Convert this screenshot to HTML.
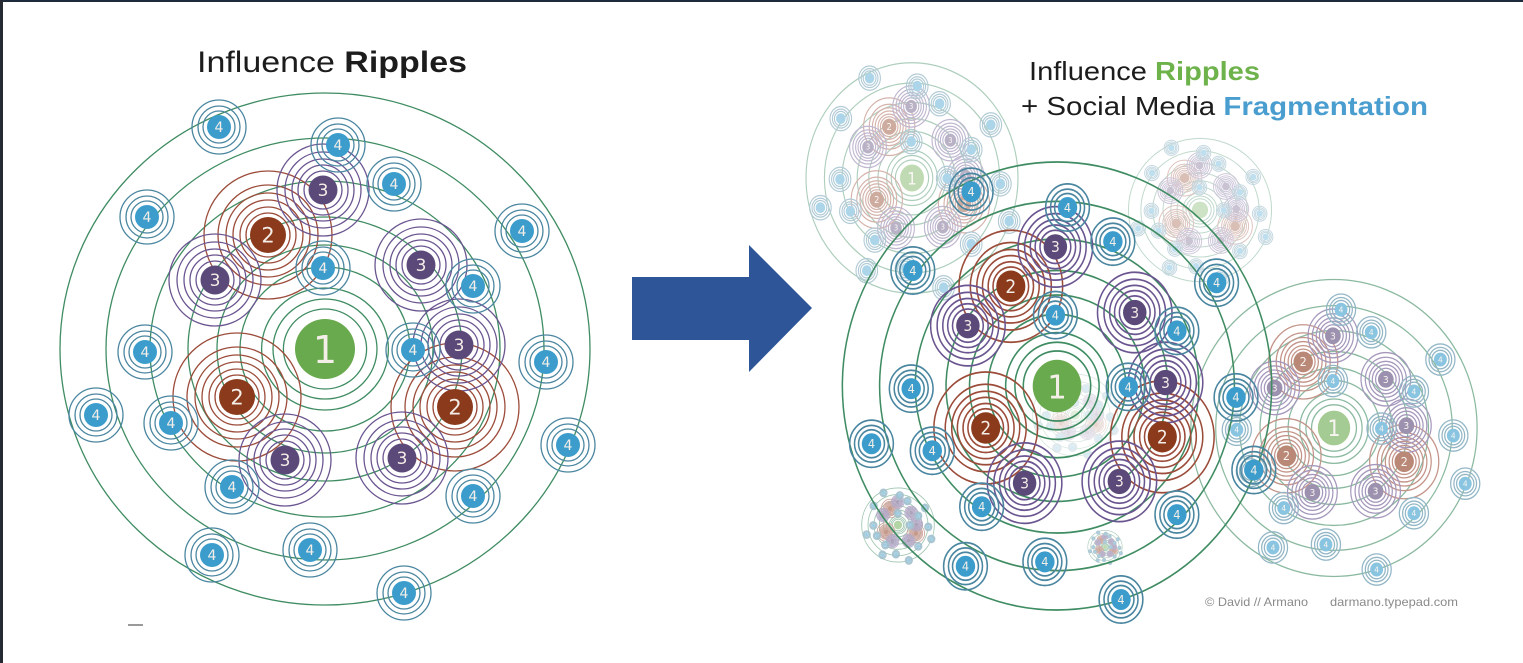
<!DOCTYPE html>
<html>
<head>
<meta charset="utf-8">
<style>
html,body{margin:0;padding:0;background:#ffffff;overflow:hidden;}
svg{display:block}
.lab text{font-family:"DejaVu Sans","Liberation Sans",sans-serif;fill:#f4eee8;text-anchor:middle}
.t1{font-size:38px}.t2{font-size:21px}.t3{font-size:17px}.t4{font-size:14px}
.ttl{font-family:"Liberation Sans",Arial,sans-serif;fill:#1c1c1c}
</style>
</head>
<body>
<svg width="1523" height="663" viewBox="0 0 1523 663" xmlns="http://www.w3.org/2000/svg">
<defs>
<g id="R1" stroke="#3f8c62" fill="none">
<ellipse rx="41.6" ry="40"/><ellipse rx="52" ry="50"/><ellipse rx="63.4" ry="61"/><ellipse rx="85" ry="82"/><ellipse rx="108" ry="104"/><ellipse rx="137" ry="132"/><ellipse rx="175" ry="168"/><ellipse rx="219" ry="211"/><ellipse rx="265" ry="256"/>
</g>
<g id="R2" stroke="#9c4c3a" fill="none">
<circle r="22"/><circle r="28"/><circle r="35"/><circle r="42"/><circle r="50"/><circle r="64"/>
</g>
<g id="R3" stroke="#6a5590" fill="none">
<circle r="19"/><circle r="25"/><circle r="31"/><circle r="38"/><circle r="46"/>
</g>
<g id="R4" stroke="#4a86a0" fill="none">
<circle r="16"/><circle r="21"/><circle r="27"/>
</g>
<g id="Dcore">
<use href="#R1"/>
<use href="#R2" x="-57" y="-114"/><use href="#R2" x="-88" y="48"/><use href="#R2" x="130" y="58"/>
<use href="#R3" x="-2" y="-159"/><use href="#R3" x="-110" y="-69"/><use href="#R3" x="96" y="-84"/><use href="#R3" x="134" y="-4"/><use href="#R3" x="-40" y="111"/><use href="#R3" x="77" y="109"/>
<use href="#R4" x="13" y="-204"/><use href="#R4" x="69" y="-165"/><use href="#R4" x="197" y="-118"/><use href="#R4" x="-2" y="-81"/><use href="#R4" x="148" y="-63"/><use href="#R4" x="-180" y="3"/><use href="#R4" x="88" y="1"/><use href="#R4" x="221" y="13"/><use href="#R4" x="-154" y="74"/><use href="#R4" x="243" y="96"/><use href="#R4" x="-93" y="138"/><use href="#R4" x="148" y="147"/><use href="#R4" x="-113" y="206"/><use href="#R4" x="-15" y="201"/><use href="#R4" x="79" y="244"/>
<circle r="30" fill="#6aaa4e"/>
<g fill="#8b3a1c"><circle cx="-57" cy="-114" r="18"/><circle cx="-88" cy="48" r="18"/><circle cx="130" cy="58" r="18"/></g>
<g fill="#5b4979"><circle cx="-2" cy="-159" r="14.5"/><circle cx="-110" cy="-69" r="14.5"/><circle cx="96" cy="-84" r="14.5"/><circle cx="134" cy="-4" r="14.5"/><circle cx="-40" cy="111" r="14.5"/><circle cx="77" cy="109" r="14.5"/></g>
<g fill="#3c9dcc"><circle cx="13" cy="-204" r="12"/><circle cx="69" cy="-165" r="12"/><circle cx="197" cy="-118" r="12"/><circle cx="-2" cy="-81" r="12"/><circle cx="148" cy="-63" r="12"/><circle cx="-180" cy="3" r="12"/><circle cx="88" cy="1" r="12"/><circle cx="221" cy="13" r="12"/><circle cx="-154" cy="74" r="12"/><circle cx="243" cy="96" r="12"/><circle cx="-93" cy="138" r="12"/><circle cx="148" cy="147" r="12"/><circle cx="-113" cy="206" r="12"/><circle cx="-15" cy="201" r="12"/><circle cx="79" cy="244" r="12"/></g>
</g>
<g id="Dx">
<use href="#R4" x="-106" y="-222"/><use href="#R4" x="-178" y="-132"/><use href="#R4" x="-229" y="66"/>
<g fill="#3c9dcc"><circle cx="-106" cy="-222" r="12"/><circle cx="-178" cy="-132" r="12"/><circle cx="-229" cy="66" r="12"/></g>
</g>
</defs>

<rect width="1523" height="663" fill="#ffffff"/>

<!-- Left diagram -->
<text class="ttl" x="197" y="72" font-size="30" textLength="270" lengthAdjust="spacingAndGlyphs">Influence <tspan font-weight="bold">Ripples</tspan></text>
<g transform="translate(325,349)" stroke-width="1.3">
<use href="#Dcore"/><use href="#Dx"/>
<g class="lab">
<text class="t1" x="0" y="14">1</text>
<text class="t2" x="-57" y="-106.5">2</text><text class="t2" x="-88" y="55.5">2</text><text class="t2" x="130" y="65.5">2</text>
<text class="t3" x="-2" y="-153">3</text><text class="t3" x="-110" y="-63">3</text><text class="t3" x="96" y="-78">3</text><text class="t3" x="134" y="2">3</text><text class="t3" x="-40" y="117">3</text><text class="t3" x="77" y="115">3</text>
<text class="t4" x="-106" y="-217">4</text><text class="t4" x="13" y="-199">4</text><text class="t4" x="69" y="-160">4</text><text class="t4" x="-178" y="-127">4</text><text class="t4" x="197" y="-113">4</text><text class="t4" x="-2" y="-76">4</text><text class="t4" x="148" y="-58">4</text><text class="t4" x="-180" y="8">4</text><text class="t4" x="88" y="6">4</text><text class="t4" x="221" y="18">4</text><text class="t4" x="-229" y="71">4</text><text class="t4" x="-154" y="79">4</text><text class="t4" x="243" y="101">4</text><text class="t4" x="-93" y="143">4</text><text class="t4" x="148" y="152">4</text><text class="t4" x="-113" y="211">4</text><text class="t4" x="-15" y="206">4</text><text class="t4" x="79" y="249">4</text>
</g>
</g>
<line x1="128" y1="625" x2="143" y2="625" stroke="#9a9a9a" stroke-width="2"/>

<!-- Arrow -->
<polygon points="632,277 749,277 749,245 812,308 749,372 749,340 632,340" fill="#2d5597"/>

<!-- Right side faded clusters -->
<g transform="translate(912,178) scale(0.40,0.45)" stroke-width="2.8" opacity="0.42">
<use href="#Dcore"/><use href="#Dx"/>
<g class="lab">
<text class="t1" x="0" y="14">1</text>
<text class="t2" x="-57" y="-106.5">2</text><text class="t2" x="-88" y="55.5">2</text><text class="t2" x="130" y="65.5">2</text>
<text class="t3" x="-2" y="-153">3</text><text class="t3" x="-110" y="-63">3</text><text class="t3" x="96" y="-78">3</text><text class="t3" x="134" y="2">3</text><text class="t3" x="-40" y="117">3</text><text class="t3" x="77" y="115">3</text>
</g>
</g>
<g transform="translate(1200,210) scale(0.27,0.28)" stroke-width="3.6" opacity="0.32">
<use href="#Dcore"/><use href="#Dx"/>
</g>
<g transform="translate(1075,415) scale(0.16,0.16)" stroke-width="5" opacity="0.2">
<use href="#Dcore"/><use href="#Dx"/>
</g>
<g transform="translate(898,525) scale(0.137,0.145)" stroke-width="6" opacity="0.5">
<use href="#Dcore"/><use href="#Dx"/>
</g>
<g transform="translate(1105,547) scale(0.065,0.065)" stroke-width="10" opacity="0.45">
<use href="#Dcore"/><use href="#Dx"/>
</g>
<g transform="translate(1334,428) scale(0.54,0.58)" stroke-width="2.3" opacity="0.6">
<use href="#Dcore"/>
<g class="lab">
<text class="t1" x="0" y="14">1</text>
<text class="t2" x="-57" y="-106.5">2</text><text class="t2" x="-88" y="55.5">2</text><text class="t2" x="130" y="65.5">2</text>
<text class="t3" x="-2" y="-153">3</text><text class="t3" x="-110" y="-63">3</text><text class="t3" x="96" y="-78">3</text><text class="t3" x="134" y="2">3</text><text class="t3" x="-40" y="117">3</text><text class="t3" x="77" y="115">3</text>
<text class="t4" x="13" y="-199">4</text><text class="t4" x="69" y="-160">4</text><text class="t4" x="197" y="-113">4</text><text class="t4" x="-2" y="-76">4</text><text class="t4" x="148" y="-58">4</text><text class="t4" x="-180" y="8">4</text><text class="t4" x="88" y="6">4</text><text class="t4" x="221" y="18">4</text><text class="t4" x="-154" y="79">4</text><text class="t4" x="243" y="101">4</text><text class="t4" x="-93" y="143">4</text><text class="t4" x="148" y="152">4</text><text class="t4" x="-113" y="211">4</text><text class="t4" x="-15" y="206">4</text><text class="t4" x="79" y="249">4</text>
</g>
</g>

<!-- Right main cluster -->
<g transform="translate(1057,386) scale(0.81,0.875)" stroke-width="1.9">
<use href="#Dcore"/><use href="#Dx"/>
<g class="lab">
<text class="t1" x="0" y="14">1</text>
<text class="t2" x="-57" y="-106.5">2</text><text class="t2" x="-88" y="55.5">2</text><text class="t2" x="130" y="65.5">2</text>
<text class="t3" x="-2" y="-153">3</text><text class="t3" x="-110" y="-63">3</text><text class="t3" x="96" y="-78">3</text><text class="t3" x="134" y="2">3</text><text class="t3" x="-40" y="117">3</text><text class="t3" x="77" y="115">3</text>
<text class="t4" x="-106" y="-217">4</text><text class="t4" x="13" y="-199">4</text><text class="t4" x="69" y="-160">4</text><text class="t4" x="-178" y="-127">4</text><text class="t4" x="197" y="-113">4</text><text class="t4" x="-2" y="-76">4</text><text class="t4" x="148" y="-58">4</text><text class="t4" x="-180" y="8">4</text><text class="t4" x="88" y="6">4</text><text class="t4" x="221" y="18">4</text><text class="t4" x="-229" y="71">4</text><text class="t4" x="-154" y="79">4</text><text class="t4" x="243" y="101">4</text><text class="t4" x="-93" y="143">4</text><text class="t4" x="148" y="152">4</text><text class="t4" x="-113" y="211">4</text><text class="t4" x="-15" y="206">4</text><text class="t4" x="79" y="249">4</text>
</g>
</g>

<!-- Right titles -->
<text class="ttl" x="1029" y="80" font-size="26" textLength="231" lengthAdjust="spacingAndGlyphs">Influence <tspan font-weight="bold" fill="#6db24b">Ripples</tspan></text>
<text class="ttl" x="1021" y="115" font-size="26" textLength="407" lengthAdjust="spacingAndGlyphs">+ Social Media <tspan font-weight="bold" fill="#4a9ecf">Fragmentation</tspan></text>

<!-- Footer -->
<text x="1205" y="606" font-family="Liberation Sans, Arial, sans-serif" font-size="12" fill="#8a8a8a" textLength="103" lengthAdjust="spacingAndGlyphs">© David // Armano</text>
<text x="1330" y="606" font-family="Liberation Sans, Arial, sans-serif" font-size="12" fill="#8a8a8a" textLength="128" lengthAdjust="spacingAndGlyphs">darmano.typepad.com</text>

<!-- Borders -->
<rect x="0" y="0" width="1523" height="2" fill="#1f2a3c"/>
<rect x="0" y="0" width="3" height="663" fill="#262b33"/>
</svg>
</body>
</html>
